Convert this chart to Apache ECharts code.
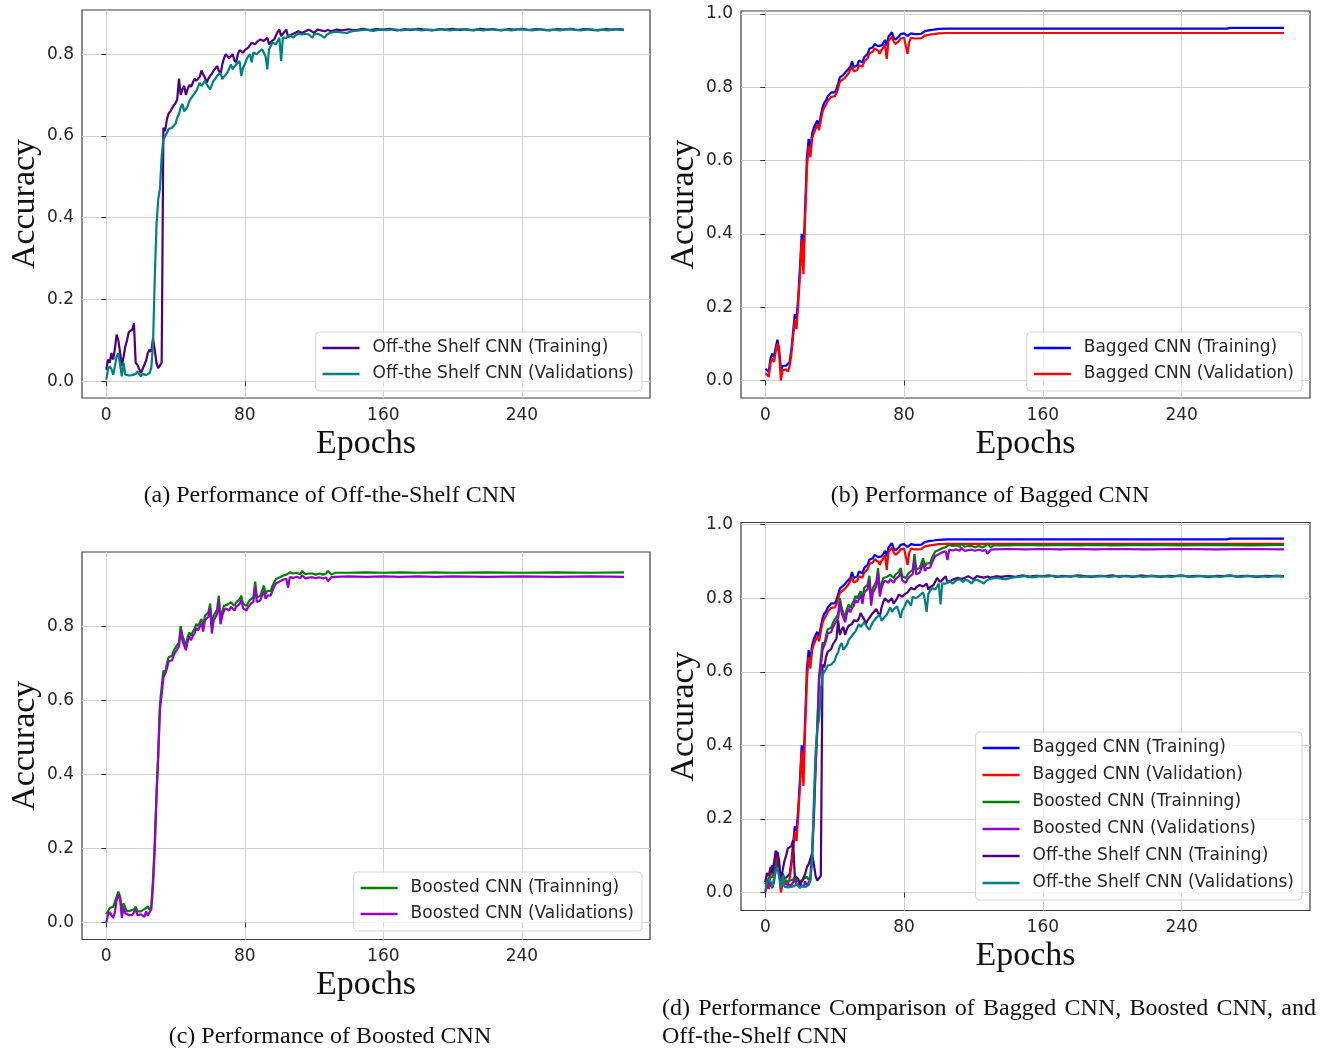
<!DOCTYPE html>
<html><head><meta charset="utf-8">
<script src="https://cdn.jsdelivr.net/npm/echarts@6/dist/echarts.min.js"></script>
<style>html,body{margin:0;padding:0;background:#fff}#c{width:1322px;height:1050px}</style>
</head><body><div id="c"></div>
<script>
// ---------- tick labels ----------
const epochTicks = [0, 80, 160, 240];
const accTicks08 = [0, 0.2, 0.4, 0.6, 0.8];
const accTicks10 = [0, 0.2, 0.4, 0.6, 0.8, 1.0];

// ---------- series names ----------
const nameOffTrain = 'Off-the Shelf CNN (Training)';
const nameOffVal = 'Off-the Shelf CNN (Validations)';
const nameBagTrain = 'Bagged CNN (Training)';
const nameBagVal = 'Bagged CNN (Validation)';
const nameBoostTrain = 'Boosted CNN (Trainning)';
const nameBoostVal = 'Boosted CNN (Validations)';

// ---------- data: [epoch, accuracy] ----------
const offTrain = [[0,0.028],[1,0.053],[2,0.045],[3,0.069],[4,0.053],[5,0.08],[6,0.114],[7,0.1],[8,0.07],[9,0.037],[10,0.06],[11,0.085],[12,0.1],[13,0.12],[14,0.118],[15,0.126],[16,0.142],[17,0.045],[18,0.04],[19,0.037],[20,0.02],[21,0.03],[22,0.028],[23,0.05],[24,0.069],[25,0.077],[26,0.072],[27,0.105],[28,0.077],[29,0.045],[30,0.032],[31,0.035],[32,0.045],[33,0.62],[34,0.612],[35,0.64],[36,0.655],[37,0.66],[38,0.662],[39,0.675],[40,0.68],[41,0.69],[42,0.74],[43,0.7],[44,0.715],[45,0.722],[46,0.7],[47,0.715],[48,0.725],[49,0.72],[50,0.73],[51,0.74],[52,0.735],[53,0.738],[54,0.745],[55,0.76],[56,0.75],[57,0.743],[58,0.73],[59,0.74],[60,0.747],[61,0.752],[62,0.76],[63,0.765],[64,0.771],[65,0.76],[66,0.75],[67,0.775],[68,0.79],[69,0.8],[70,0.795],[71,0.79],[72,0.787],[73,0.8],[74,0.785],[75,0.78],[76,0.8],[77,0.81],[78,0.806],[79,0.804],[80,0.81],[81,0.808],[82,0.816],[83,0.822],[84,0.828],[85,0.826],[86,0.824],[87,0.83],[88,0.832],[89,0.836],[90,0.84],[91,0.832],[92,0.836],[93,0.84],[94,0.824],[95,0.83],[96,0.832],[97,0.836],[98,0.84],[99,0.855],[100,0.86],[101,0.844],[102,0.85],[103,0.852],[104,0.86],[105,0.842],[106,0.845],[107,0.848],[108,0.85],[109,0.852],[110,0.854],[111,0.856],[113,0.852],[115,0.856],[117,0.86],[118,0.858],[120,0.852],[122,0.86],[124,0.858],[126,0.856],[128,0.859],[130,0.856],[133,0.86],[136,0.858],[140,0.861],[144,0.858],[148,0.862],[152,0.859],[156,0.861],[160,0.86],[164,0.862],[168,0.858],[172,0.861],[176,0.859],[180,0.862],[184,0.86],[188,0.858],[192,0.861],[196,0.86],[200,0.862],[204,0.859],[208,0.861],[212,0.858],[216,0.862],[220,0.86],[224,0.861],[228,0.858],[232,0.861],[236,0.86],[240,0.862],[244,0.859],[248,0.861],[252,0.86],[256,0.858],[260,0.861],[264,0.86],[268,0.862],[272,0.859],[276,0.861],[280,0.86],[284,0.858],[288,0.861],[292,0.86],[296,0.861],[299,0.86]];

const offVal = [[0,0.004],[1,0.028],[2,0.037],[3,0.03],[4,0.016],[5,0.037],[6,0.06],[7,0.069],[8,0.073],[9,0.012],[10,0.045],[11,0.016],[12,0.02],[13,0.014],[14,0.016],[15,0.015],[16,0.016],[17,0.018],[18,0.024],[19,0.02],[20,0.012],[21,0.018],[22,0.022],[23,0.015],[24,0.016],[25,0.02],[26,0.032],[27,0.09],[28,0.25],[29,0.38],[30,0.445],[31,0.47],[32,0.55],[33,0.59],[34,0.6],[35,0.607],[36,0.617],[37,0.615],[38,0.62],[39,0.625],[40,0.63],[41,0.645],[42,0.653],[43,0.67],[44,0.678],[45,0.66],[46,0.666],[47,0.672],[48,0.686],[49,0.69],[50,0.698],[51,0.7],[52,0.71],[53,0.72],[54,0.73],[55,0.722],[56,0.728],[57,0.735],[58,0.727],[59,0.72],[60,0.714],[61,0.725],[62,0.735],[63,0.74],[64,0.747],[65,0.75],[66,0.755],[67,0.739],[68,0.745],[69,0.75],[70,0.755],[71,0.765],[72,0.775],[73,0.763],[74,0.77],[75,0.775],[76,0.778],[77,0.783],[78,0.747],[79,0.767],[80,0.775],[81,0.787],[82,0.795],[83,0.8],[84,0.78],[85,0.804],[86,0.802],[87,0.8],[88,0.805],[89,0.808],[90,0.812],[91,0.816],[92,0.795],[93,0.763],[94,0.812],[95,0.82],[96,0.828],[97,0.826],[98,0.824],[99,0.832],[100,0.84],[101,0.783],[102,0.84],[103,0.84],[104,0.84],[105,0.844],[106,0.848],[107,0.844],[108,0.84],[109,0.845],[110,0.848],[111,0.85],[112,0.852],[113,0.848],[114,0.844],[115,0.85],[116,0.852],[117,0.848],[118,0.845],[119,0.84],[120,0.848],[121,0.852],[122,0.85],[123,0.848],[124,0.846],[125,0.844],[126,0.84],[127,0.846],[129,0.852],[131,0.854],[133,0.855],[136,0.853],[139,0.852],[142,0.856],[146,0.858],[150,0.86],[154,0.857],[158,0.86],[162,0.859],[166,0.861],[170,0.858],[174,0.86],[178,0.861],[182,0.858],[186,0.86],[190,0.859],[194,0.861],[198,0.858],[202,0.86],[206,0.861],[210,0.859],[214,0.86],[218,0.858],[222,0.861],[226,0.859],[230,0.86],[234,0.858],[238,0.861],[242,0.86],[246,0.858],[250,0.861],[254,0.859],[258,0.86],[262,0.858],[266,0.861],[270,0.86],[274,0.858],[278,0.861],[282,0.859],[286,0.86],[290,0.858],[294,0.861],[299,0.859]];

const bagTrain = [[0,0.032],[1,0.028],[2,0.023],[3,0.06],[4,0.073],[5,0.064],[6,0.09],[7,0.111],[8,0.085],[9,0.027],[10,0.04],[11,0.036],[12,0.04],[13,0.036],[14,0.05],[15,0.082],[16,0.086],[17,0.18],[18,0.168],[19,0.227],[20,0.31],[21,0.4],[22,0.345],[23,0.473],[24,0.609],[25,0.659],[26,0.632],[27,0.673],[28,0.69],[29,0.695],[30,0.709],[31,0.695],[32,0.723],[33,0.745],[34,0.758],[35,0.764],[36,0.775],[37,0.777],[38,0.786],[39,0.784],[40,0.786],[41,0.795],[42,0.81],[43,0.827],[44,0.832],[45,0.834],[46,0.836],[47,0.845],[48,0.85],[49,0.855],[50,0.871],[51,0.855],[52,0.856],[53,0.859],[54,0.873],[55,0.87],[56,0.868],[57,0.882],[58,0.886],[59,0.891],[60,0.905],[61,0.905],[62,0.909],[63,0.918],[64,0.916],[65,0.912],[66,0.909],[67,0.914],[68,0.92],[69,0.929],[70,0.914],[71,0.938],[72,0.944],[73,0.95],[74,0.936],[75,0.93],[76,0.927],[77,0.938],[78,0.945],[79,0.95],[80,0.947],[81,0.945],[82,0.94],[83,0.936],[84,0.947],[85,0.946],[86,0.945],[87,0.946],[88,0.945],[89,0.941],[90,0.946],[91,0.95],[92,0.953],[93,0.955],[95,0.956],[97,0.957],[100,0.959],[105,0.96],[266,0.96],[268,0.962],[299,0.962]];

const bagVal = [[0,0.02],[1,0.015],[2,0.01],[3,0.048],[4,0.06],[5,0.05],[6,0.078],[7,0.1],[8,0.07],[9,0.0],[10,0.028],[11,0.025],[12,0.03],[13,0.024],[14,0.038],[15,0.07],[16,0.075],[17,0.165],[18,0.14],[19,0.21],[20,0.29],[21,0.385],[22,0.29],[23,0.45],[24,0.58],[25,0.64],[26,0.609],[27,0.66],[28,0.675],[29,0.68],[30,0.698],[31,0.683],[32,0.71],[33,0.733],[34,0.745],[35,0.752],[36,0.763],[37,0.765],[38,0.774],[39,0.772],[40,0.775],[41,0.783],[42,0.798],[43,0.815],[44,0.82],[45,0.822],[46,0.824],[47,0.832],[48,0.838],[49,0.842],[50,0.858],[51,0.843],[52,0.845],[53,0.847],[54,0.86],[55,0.858],[56,0.856],[57,0.87],[58,0.874],[59,0.879],[60,0.893],[61,0.893],[62,0.897],[63,0.906],[64,0.904],[65,0.9],[66,0.891],[67,0.902],[68,0.908],[69,0.917],[70,0.877],[71,0.926],[72,0.932],[73,0.938],[74,0.924],[75,0.918],[76,0.915],[77,0.926],[78,0.933],[79,0.938],[80,0.935],[81,0.933],[82,0.891],[83,0.924],[84,0.935],[85,0.934],[86,0.933],[87,0.934],[88,0.933],[89,0.929],[90,0.934],[91,0.938],[92,0.941],[93,0.943],[95,0.944],[97,0.945],[100,0.947],[105,0.948],[299,0.948]];

const boostTrain = [[0,0.022],[1,0.03],[2,0.039],[3,0.043],[4,0.042],[5,0.039],[6,0.07],[7,0.083],[8,0.07],[9,0.034],[10,0.052],[11,0.04],[12,0.03],[13,0.03],[14,0.032],[15,0.03],[16,0.035],[17,0.043],[18,0.03],[19,0.025],[20,0.03],[21,0.034],[22,0.036],[23,0.039],[24,0.043],[25,0.034],[26,0.043],[27,0.115],[28,0.214],[29,0.348],[30,0.456],[31,0.59],[32,0.635],[33,0.68],[34,0.671],[35,0.698],[36,0.716],[37,0.72],[38,0.72],[39,0.734],[40,0.742],[41,0.747],[42,0.756],[43,0.8],[44,0.774],[45,0.779],[46,0.747],[47,0.77],[48,0.783],[49,0.774],[50,0.785],[51,0.792],[52,0.806],[53,0.8],[54,0.81],[55,0.819],[56,0.8],[57,0.828],[58,0.832],[59,0.837],[60,0.861],[61,0.797],[62,0.828],[63,0.833],[64,0.845],[65,0.882],[66,0.819],[67,0.84],[68,0.855],[69,0.86],[70,0.858],[71,0.855],[72,0.864],[73,0.86],[74,0.855],[75,0.864],[76,0.869],[77,0.872],[78,0.882],[79,0.86],[80,0.858],[81,0.855],[82,0.864],[83,0.87],[84,0.873],[85,0.878],[86,0.92],[87,0.878],[88,0.88],[89,0.882],[90,0.886],[91,0.909],[92,0.886],[93,0.895],[94,0.893],[95,0.895],[96,0.909],[97,0.918],[98,0.927],[99,0.929],[100,0.931],[102,0.936],[104,0.939],[106,0.945],[108,0.942],[110,0.944],[112,0.94],[113,0.949],[115,0.94],[117,0.942],[119,0.942],[121,0.939],[123,0.942],[125,0.939],[127,0.942],[128,0.949],[130,0.939],[132,0.944],[140,0.944],[150,0.945],[160,0.944],[170,0.945],[180,0.944],[190,0.945],[200,0.944],[220,0.945],[240,0.944],[260,0.945],[280,0.944],[299,0.945]];

const boostVal = [[0,0.0],[1,0.02],[2,0.028],[3,0.03],[4,0.012],[5,0.028],[6,0.06],[7,0.075],[8,0.062],[9,0.012],[10,0.04],[11,0.025],[12,0.02],[13,0.02],[14,0.022],[15,0.02],[16,0.025],[17,0.035],[18,0.02],[19,0.015],[20,0.022],[21,0.025],[22,0.015],[23,0.03],[24,0.018],[25,0.028],[26,0.035],[27,0.1],[28,0.2],[29,0.335],[30,0.445],[31,0.575],[32,0.615],[33,0.66],[34,0.655],[35,0.685],[36,0.705],[37,0.71],[38,0.708],[39,0.722],[40,0.73],[41,0.735],[42,0.745],[43,0.79],[44,0.76],[45,0.765],[46,0.735],[47,0.758],[48,0.772],[49,0.762],[50,0.773],[51,0.78],[52,0.795],[53,0.788],[54,0.798],[55,0.808],[56,0.785],[57,0.816],[58,0.82],[59,0.825],[60,0.85],[61,0.78],[62,0.815],[63,0.82],[64,0.832],[65,0.87],[66,0.805],[67,0.828],[68,0.842],[69,0.848],[70,0.845],[71,0.842],[72,0.852],[73,0.848],[74,0.842],[75,0.852],[76,0.857],[77,0.86],[78,0.87],[79,0.848],[80,0.845],[81,0.842],[82,0.852],[83,0.858],[84,0.862],[85,0.866],[86,0.905],[87,0.865],[88,0.868],[89,0.87],[90,0.874],[91,0.895],[92,0.874],[93,0.882],[94,0.88],[95,0.883],[96,0.896],[97,0.906],[98,0.915],[99,0.918],[100,0.92],[102,0.925],[104,0.928],[105,0.904],[106,0.932],[108,0.93],[110,0.933],[112,0.929],[113,0.937],[115,0.929],[117,0.931],[119,0.932],[121,0.929],[123,0.932],[125,0.929],[127,0.931],[128,0.921],[130,0.932],[132,0.933],[140,0.934],[150,0.933],[160,0.934],[170,0.933],[180,0.934],[190,0.933],[200,0.934],[220,0.933],[240,0.934],[260,0.933],[280,0.934],[299,0.933]];

// ---------- captions ----------
const captionA = '(a) Performance of Off-the-Shelf CNN';
const captionB = '(b) Performance of Bagged CNN';
const captionC = '(c) Performance of Boosted CNN';
const captionD1 = '(d) Performance Comparison of Bagged CNN, Boosted CNN, and';
const captionD2 = 'Off-the-Shelf CNN';

// ---------- styling ----------
const COLORS = {
  offTrain: '#4b0082', offVal: '#008080',
  bagTrain: '#0000ff', bagVal: '#ff0000',
  boostTrain: '#008000', boostVal: '#9400d3'
};
const TICK_FONT = 'DejaVu Sans';
const SERIF = 'Liberation Serif';

const panels = [
  {grid:{left:82, top:10, width:568, height:388}, y:[-0.041, 0.908], yt:accTicks08,
   legend:{right:680, bottom:659, gap:6}},
  {grid:{left:741, top:11, width:569, height:387}, y:[-0.048, 1.008], yt:accTicks10,
   legend:{right:20, bottom:659, gap:6}},
  {grid:{left:82, top:552, width:568, height:387.5}, y:[-0.046, 1.0], yt:accTicks08,
   legend:{right:680, bottom:119, gap:6}},
  {grid:{left:741, top:522.5, width:569, height:388}, y:[-0.049, 1.006], yt:accTicks10,
   legend:{right:20, bottom:150, gap:7}}
];

const panelSeries = [
  [[nameOffTrain, offTrain, COLORS.offTrain], [nameOffVal, offVal, COLORS.offVal]],
  [[nameBagTrain, bagTrain, COLORS.bagTrain], [nameBagVal, bagVal, COLORS.bagVal]],
  [[nameBoostTrain, boostTrain, COLORS.boostTrain], [nameBoostVal, boostVal, COLORS.boostVal]],
  [[nameBagTrain, bagTrain, COLORS.bagTrain], [nameBagVal, bagVal, COLORS.bagVal],
   [nameBoostTrain, boostTrain, COLORS.boostTrain], [nameBoostVal, boostVal, COLORS.boostVal],
   [nameOffTrain, offTrain, COLORS.offTrain], [nameOffVal, offVal, COLORS.offVal]]
];

const grids = [], xAxes = [], yAxes = [], series = [], legends = [];
panels.forEach((p, i) => {
  grids.push(Object.assign({show:true, borderColor:'#3c3c3c', borderWidth:1.2,
    backgroundColor:'transparent', containLabel:false, outerBoundsMode:'none'}, p.grid));
  xAxes.push({
    type:'value', gridIndex:i, min:-14, max:314,
    name:'Epochs', nameLocation:'middle', nameGap:29,
    nameTextStyle:{fontFamily:SERIF, fontSize:34, color:'#111'},
    axisLine:{show:false},
    axisTick:{show:true, inside:false, length:5, customValues:epochTicks, lineStyle:{color:'#333', width:1}},
    axisLabel:{show:true, margin:9, customValues:epochTicks, fontFamily:TICK_FONT, fontSize:17, color:'#262626',
      formatter: v => String(v)},
    splitLine:{show:true, lineStyle:{color:'#d2d2d2', width:1}}
  });
  yAxes.push({
    type:'value', gridIndex:i, min:p.y[0], max:p.y[1],
    name:'Accuracy', nameLocation:'middle', nameGap:40, nameRotate:90,
    nameTextStyle:{fontFamily:SERIF, fontSize:34, color:'#111'},
    axisLine:{show:false},
    axisTick:{show:true, inside:false, length:5, customValues:p.yt, lineStyle:{color:'#333', width:1}},
    axisLabel:{show:true, margin:8, customValues:p.yt, fontFamily:TICK_FONT, fontSize:17, color:'#262626',
      formatter: v => Number(v).toFixed(1)},
    splitLine:{show:true, lineStyle:{color:'#d2d2d2', width:1}}
  });
  panelSeries[i].forEach(([name, data, color]) => {
    series.push({
      type:'line', name, data, xAxisIndex:i, yAxisIndex:i,
      symbol:'none', showSymbol:false, smooth:false, animation:false,
      lineStyle:{width:2.2, color}, itemStyle:{color}, emphasis:{disabled:true}
    });
  });
  legends.push({
    orient:'vertical', right:p.legend.right, bottom:p.legend.bottom,
    data: panelSeries[i].map(s => ({name:s[0], icon:'rect'})),
    itemWidth:37, itemHeight:2.5, itemGap:p.legend.gap,
    textStyle:{fontFamily:TICK_FONT, fontSize:17, color:'#262626', lineHeight:20, padding:[0,0,0,8]},
    backgroundColor:'rgba(255,255,255,0.8)', borderColor:'#d4d4d4', borderWidth:1, borderRadius:4,
    padding:[6,8,7,7], selectedMode:false
  });
});

// ---------- captions as text graphics ----------
const capFont = '24px "' + SERIF + '"';
const graphics = [
  {type:'text', x:330, y:496, style:{text:captionA, font:capFont, fill:'#111', align:'center', verticalAlign:'middle'}},
  {type:'text', x:990, y:496, style:{text:captionB, font:capFont, fill:'#111', align:'center', verticalAlign:'middle'}},
  {type:'text', x:330, y:1037, style:{text:captionC, font:capFont, fill:'#111', align:'center', verticalAlign:'middle'}},
  {type:'text', x:662, y:1037, style:{text:captionD2, font:capFont, fill:'#111', align:'left', verticalAlign:'middle'}}
];
// justified first line of caption (d)
(function(){
  const ctx = document.createElement('canvas').getContext('2d');
  ctx.font = capFont;
  const words = captionD1.split(' ');
  const x0 = 662, x1 = 1316;
  const widths = words.map(w => ctx.measureText(w).width);
  const total = widths.reduce((a,b)=>a+b,0);
  const gap = (x1 - x0 - total) / (words.length - 1);
  let x = x0;
  words.forEach((w, k) => {
    graphics.push({type:'text', x:x, y:1009, style:{text:w, font:capFont, fill:'#111', align:'left', verticalAlign:'middle'}});
    x += widths[k] + gap;
  });
})();

const chart = echarts.init(document.getElementById('c'), null, {renderer:'canvas', width:1322, height:1050});
chart.setOption({
  animation:false, backgroundColor:'#fff',
  grid:grids, xAxis:xAxes, yAxis:yAxes, series, legend:legends, graphic:graphics
});
</script></body></html>
